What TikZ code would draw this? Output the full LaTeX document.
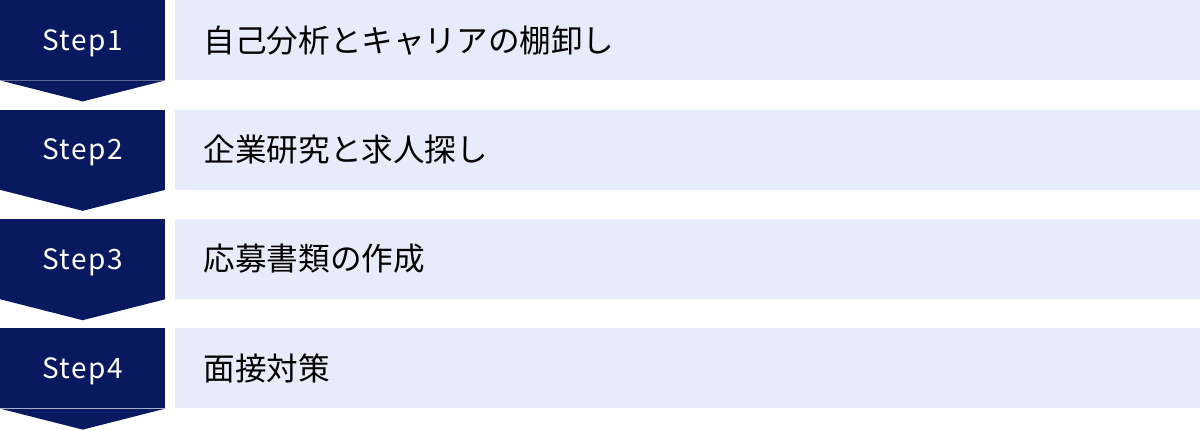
\documentclass[tikz,border=0pt]{standalone}
\usepackage{fontspec}
\setmainfont{Noto Sans CJK JP}
\newfontfamily\stepfont[LetterSpace=6]{Noto Sans CJK JP}
\usepackage{xcolor}
\usepackage{tikz}
\usetikzlibrary{calc,positioning}
\definecolor{stepnavy}{HTML}{08195F}
\definecolor{tasklight}{HTML}{E6ECF9}
\tikzset{
  stepbox/.style={rectangle, fill=stepnavy, minimum width=165pt, minimum height=80pt, inner sep=0pt},
  steptext/.style={text=white, inner sep=0pt, font=\stepfont\fontsize{28}{32}\selectfont},
  taskbox/.style={rectangle, fill=tasklight, minimum height=80pt, inner xsep=29pt, inner ysep=0pt,
    text width=968pt, align=left, font=\fontsize{31.6}{38}\selectfont}
}
\begin{document}
\begin{tikzpicture}[x=1pt,y=1pt]
  \useasboundingbox (0,0) rectangle (1200,-429);
  % steps
  \node[stepbox, anchor=north west] (s1) at (0,0) {};
  \node[stepbox, below=29pt of s1] (s2) {};
  \node[stepbox, below=29pt of s2] (s3) {};
  \node[stepbox, below=29pt of s3] (s4) {};
  \fill[stepnavy] (s1.south west) -- ($(s1.south)+(0,-21)$) -- (s1.south east) -- cycle;
  \fill[stepnavy] (s2.south west) -- ($(s2.south)+(0,-21)$) -- (s2.south east) -- cycle;
  \fill[stepnavy] (s3.south west) -- ($(s3.south)+(0,-21)$) -- (s3.south east) -- cycle;
  \fill[stepnavy] (s4.south west) -- ($(s4.south)+(0,-21)$) -- (s4.south east) -- cycle;
  \node[steptext] (l1) at ($(s1.center)+(0,-3)$) {Step1};
  \node[steptext] (l2) at ($(s2.center)+(0,-3)$) {Step2};
  \node[steptext] (l3) at ($(s3.center)+(0,-3)$) {Step3};
  \node[steptext] (l4) at ($(s4.center)+(0,-3)$) {Step4};
  % tasks
  \node[taskbox, right=9pt of s1] (b1) {自己分析とキャリアの棚卸し};
  \node[taskbox, right=9pt of s2] (b2) {企業研究と求人探し};
  \node[taskbox, right=9pt of s3] (b3) {応募書類の作成};
  \node[taskbox, right=9pt of s4] (b4) {面接対策};
\end{tikzpicture}
\end{document}
